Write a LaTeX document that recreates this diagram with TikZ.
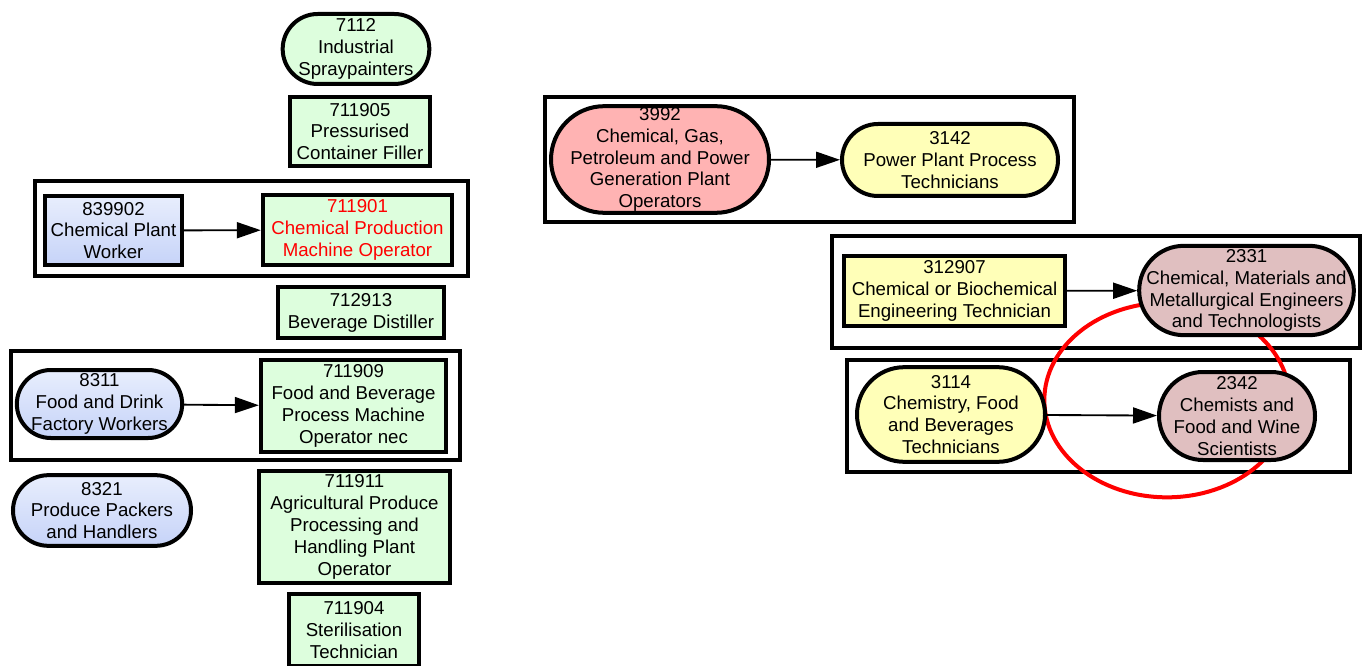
\documentclass[tikz,border=0pt]{standalone}
\usepackage{fontspec}
\setmainfont{Liberation Sans}
\usetikzlibrary{arrows.meta}
\definecolor{occgreen}{RGB}{221,254,221}
\definecolor{occbluetop}{RGB}{232,238,253}
\definecolor{occbluebot}{RGB}{198,211,248}
\definecolor{occpink}{RGB}{255,179,179}
\definecolor{occyellow}{RGB}{255,255,184}
\definecolor{occmauve}{RGB}{224,191,192}
\begin{document}
\begin{tikzpicture}[x=0.75pt,y=-0.75pt,
  occ/.style={draw,line width=3pt,align=center,inner sep=0pt,
    font=\fontsize{14}{16.4}\selectfont},
  box/.style={occ,rectangle},
  pill/.style={occ,rounded corners=#1},
  blueshade/.style={top color=occbluetop,bottom color=occbluebot},
  grp/.style={line width=3pt},
  link/.style={-{Triangle[length=18pt,width=12pt]},line width=1.4pt}]
        \useasboundingbox (0,0) rectangle (1369,666);

        % groups
        \draw[grp] (35,181) rectangle (468,276);
        \draw[grp] (11,351) rectangle (460,460);
        \draw[grp] (545,97) rectangle (1074,222);
        \draw[grp] (832,236) rectangle (1360,348);
        \draw[grp] (847,360) rectangle (1350,472);
        \draw[red,line width=3pt] (1167,400) ellipse [x radius=92pt,y radius=73pt];

        % left side
        \node[pill=26.25pt,fill=occgreen,minimum width=110pt,minimum height=52.5pt] (c7112) at (356,49) {7112\\Industrial\\Spraypainters};
        \node[box,fill=occgreen,minimum width=105pt,minimum height=52pt] (c711905) at (360,131.5) {711905\\Pressurised\\Container Filler};
        \node[box,blueshade,minimum width=103pt,minimum height=52pt] (c839902) at (113.5,230.5) {839902\\Chemical Plant\\Worker};
        \node[box,fill=occgreen,text=red,minimum width=142pt,minimum height=52.5pt] (c711901) at (357.5,230) {711901\\Chemical Production\\Machine Operator};
        \node[box,fill=occgreen,minimum width=124.5pt,minimum height=38pt] (c712913) at (361,312.5) {712913\\Beverage Distiller};
        \node[pill=25.5pt,blueshade,minimum width=124pt,minimum height=51pt] (c8311) at (99.5,404) {8311\\Food and Drink\\Factory Workers};
        \node[box,fill=occgreen,minimum width=139pt,minimum height=69pt] (c711909) at (353.5,406) {711909\\Food and Beverage\\Process Machine\\Operator nec};
        \node[pill=26.5pt,blueshade,minimum width=133.5pt,minimum height=53pt] (c8321) at (102,510.5) {8321\\Produce Packers\\and Handlers};
        \node[box,fill=occgreen,minimum width=143pt,minimum height=84pt] (c711911) at (354.5,527) {711911\\Agricultural Produce\\Processing and\\Handling Plant\\Operator};
        \node[box,fill=occgreen,minimum width=97.5pt,minimum height=54pt] (c711904) at (354,630) {711904\\Sterilisation\\Technician};

        % right side
        \node[pill=40pt,fill=occpink,minimum width=163.5pt,minimum height=80pt] (c3992) at (660,159.5) {3992\\Chemical, Gas,\\Petroleum and Power\\Generation Plant\\Operators};
        \node[pill=27pt,fill=occyellow,minimum width=162pt,minimum height=54pt] (c3142) at (950,160) {3142\\Power Plant Process\\Technicians};
        \node[box,fill=occyellow,minimum width=166pt,minimum height=52.5pt] (c312907) at (954.5,291) {312907\\Chemical or Biochemical\\Engineering Technician};
        \node[pill=33.5pt,fill=occmauve,minimum width=161pt,minimum height=67pt] (c2331) at (1246.5,290.5) {2331\\Chemical, Materials and\\Metallurgical Engineers\\and Technologists};
        \node[pill=35.5pt,fill=occyellow,minimum width=141pt,minimum height=71pt] (c3114) at (951,414.5) {3114\\Chemistry, Food\\and Beverages\\Technicians};
        \node[pill=33pt,fill=occmauve,minimum width=117pt,minimum height=66pt] (c2342) at (1237,416) {2342\\Chemists and\\Food and Wine\\Scientists};

        \draw[link] (c839902) -- (c711901);
        \draw[link] (c8311) -- (c711909);
        \draw[link] (c3992) -- (c3142);
        \draw[link] (c312907) -- (c2331);
        \draw[link] (c3114) -- (c2342);
      \end{tikzpicture}
\end{document}
